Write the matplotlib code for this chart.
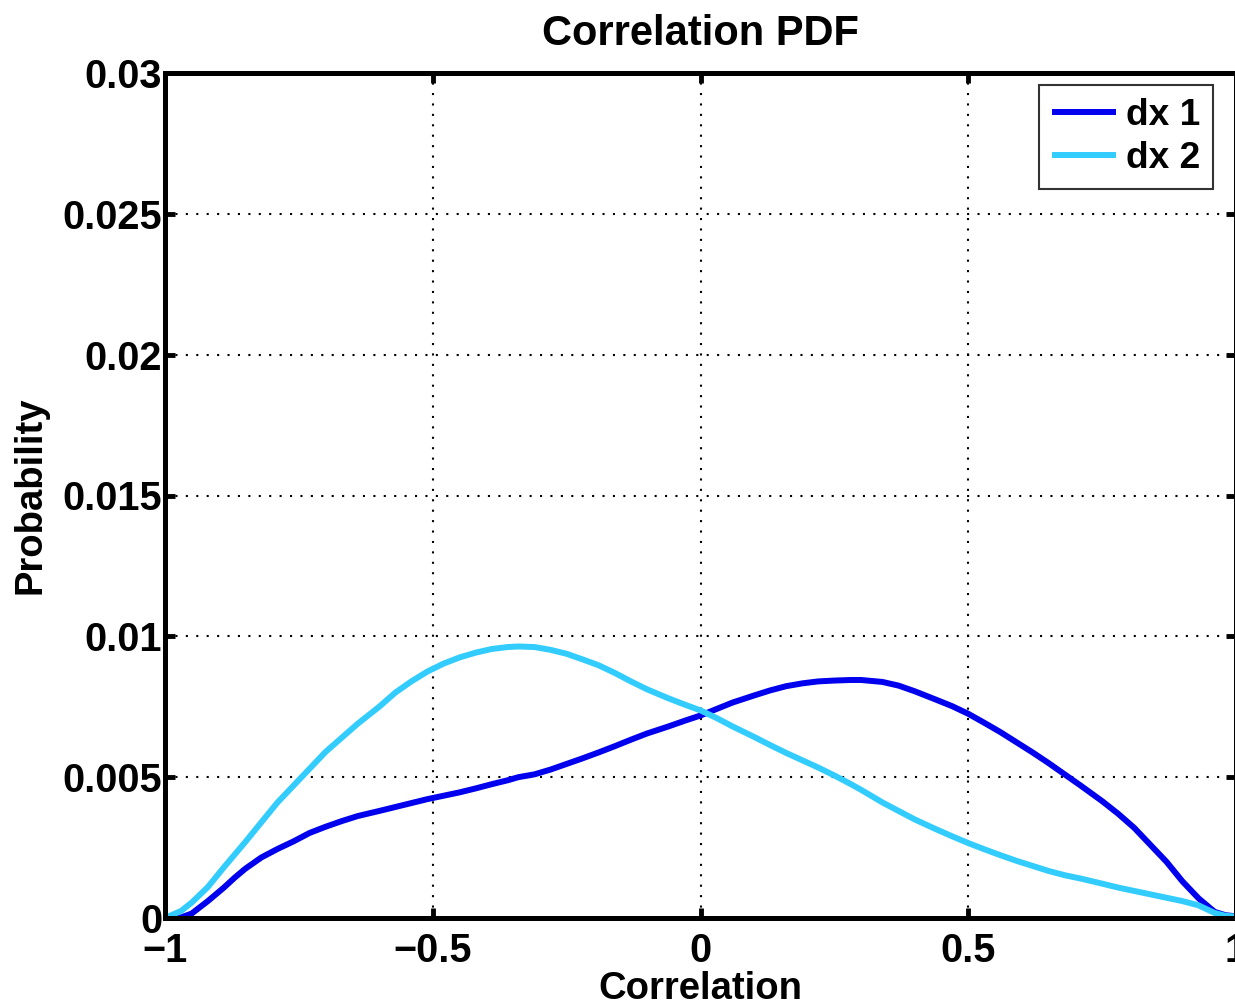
import numpy as np
import matplotlib
matplotlib.use('Agg')
import matplotlib.pyplot as plt

# values
corr = [-1.0, -0.97, -0.95, -0.92, -0.89, -0.87, -0.85, -0.82, -0.79, -0.76, -0.73, -0.70,
        -0.67, -0.64, -0.60, -0.57, -0.54, -0.51, -0.48, -0.45, -0.42, -0.39, -0.36, -0.34,
        -0.31, -0.28, -0.25, -0.22, -0.19, -0.16, -0.13, -0.10, -0.06, -0.03, 0.0, 0.03, 0.06,
        0.10, 0.13, 0.16, 0.19, 0.22, 0.25, 0.28, 0.30, 0.34, 0.37, 0.40, 0.44, 0.47, 0.50,
        0.53, 0.56, 0.59, 0.62, 0.65, 0.68, 0.71, 0.75, 0.78, 0.81, 0.84, 0.87, 0.90, 0.93,
        0.96, 0.98, 1.0]
dx1 = [0.0, 0.00002, 0.00016, 0.0006, 0.00108, 0.00143, 0.00175, 0.00215, 0.00245, 0.00272,
       0.00302, 0.00324, 0.00344, 0.00362, 0.0038, 0.00394, 0.00408, 0.00422, 0.00434, 0.00446,
       0.0046, 0.00475, 0.00489, 0.0050, 0.0051, 0.00527, 0.00547, 0.00567, 0.00588, 0.0061,
       0.00633, 0.00655, 0.0068, 0.007, 0.00719, 0.00742, 0.00765, 0.0079, 0.00808, 0.00823,
       0.00833, 0.0084, 0.00843, 0.00845, 0.00845, 0.00838, 0.00825, 0.00805, 0.00775, 0.00752,
       0.00725, 0.00693, 0.0066, 0.00624, 0.00588, 0.0055, 0.0051, 0.0047, 0.00415, 0.0037,
       0.0032, 0.0026, 0.002, 0.0013, 0.0007, 0.00022, 0.0001, 0.00006]
dx2 = [0.0, 0.00025, 0.00055, 0.0011, 0.0018, 0.00225, 0.0027, 0.0034, 0.0041, 0.0047,
       0.0053, 0.0059, 0.0064, 0.0069, 0.0075, 0.0080, 0.0084, 0.00875, 0.00903, 0.00925,
       0.00942, 0.00955, 0.00962, 0.00964, 0.00962, 0.00952, 0.00938, 0.00918, 0.00897, 0.0087,
       0.0084, 0.00812, 0.0078, 0.00758, 0.00737, 0.0071, 0.0068, 0.00643, 0.00614, 0.00586,
       0.0056, 0.00534, 0.00506, 0.00476, 0.00455, 0.0041, 0.0038, 0.0035, 0.00315, 0.0029,
       0.00266, 0.00244, 0.00223, 0.00203, 0.00185, 0.00167, 0.00152, 0.0014, 0.00122, 0.00108,
       0.00096, 0.00084, 0.00072, 0.0006, 0.00045, 0.00018, 0.00008, 0.00005]

xticks = [-1, -0.5, 0, 0.5, 1]
xticklabels = ['\u22121', '\u22120.5', '0', '0.5', '1']
yticks = [0, 0.005, 0.01, 0.015, 0.02, 0.025, 0.03]
yticklabels = ['0', '0.005', '0.01', '0.015', '0.02', '0.025', '0.03']

plt.rcParams['font.family'] = ['Liberation Sans', 'DejaVu Sans']
plt.rcParams['font.weight'] = 'bold'

fig = plt.figure(figsize=(12.35, 10.07), dpi=100)
ax = fig.add_axes([165 / 1235, 89 / 1007, 1071 / 1235, 845 / 1007])

ax.plot(corr, dx1, color='#0000ee', lw=4.3, label='dx 1', solid_capstyle='butt')
ax.plot(corr, dx2, color='#33ccff', lw=4.3, label='dx 2', solid_capstyle='butt')

ax.set_xlim(-1, 1)
ax.set_ylim(0, 0.03)
ax.set_xticks(xticks)
ax.set_xticklabels(xticklabels)
ax.set_yticks(yticks)
ax.set_yticklabels(yticklabels)
ax.tick_params(direction='in', length=7, width=3.5, labelsize=28.5, top=True, right=True)
ax.tick_params(axis='x', pad=10)
ax.tick_params(axis='y', pad=2)
for lab in ax.get_xticklabels() + ax.get_yticklabels():
    lab.set_fontweight('bold')

ax.grid(True, color='black', linestyle=(0, (1, 4)), linewidth=1.5)
for s in ax.spines.values():
    s.set_linewidth(3.6)

ax.set_title('Correlation PDF', fontsize=30, fontweight='bold', pad=20)
ax.set_xlabel('Correlation', fontsize=27.5, fontweight='bold', labelpad=1)
ax.set_ylabel('Probability', fontsize=27.5, fontweight='bold', labelpad=10)

leg = ax.legend(loc='upper right', fontsize=26.7, frameon=True, fancybox=False,
                handlelength=1.75, handletextpad=0.25, borderpad=0.35, labelspacing=0.22,
                borderaxespad=0, bbox_to_anchor=(0.9785, 0.9858))
leg.get_frame().set_edgecolor('black')
leg.get_frame().set_linewidth(1.5)
for t in leg.get_texts():
    t.set_fontweight('bold')

fig.savefig('out.png', dpi=100)
